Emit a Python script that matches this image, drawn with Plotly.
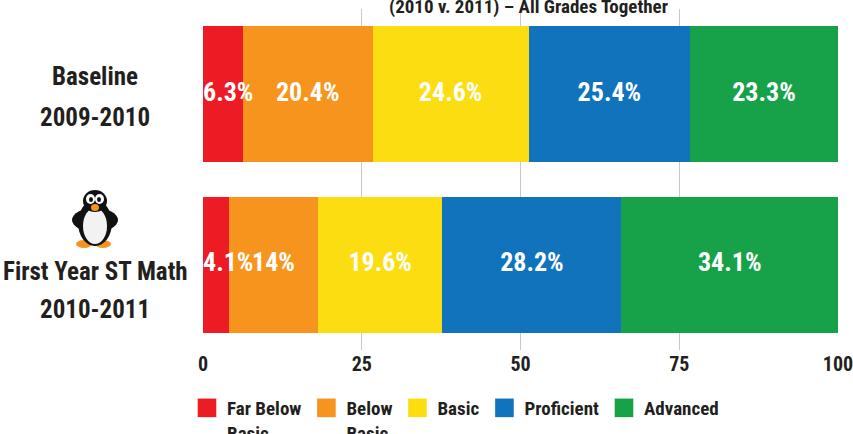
import plotly.graph_objects as go

categories = ["Baseline", "First Year ST Math"]
label_line1 = ["Baseline", "First Year ST Math"]
label_line2 = ["2009-2010", "2010-2011"]
levels = ["Far Below<br>Basic", "Below<br>Basic", "Basic", "Proficient", "Advanced"]
colors = ["#ED1C24", "#F7941D", "#FCDD11", "#1173BB", "#17A24A"]
far_below = [6.3, 4.1]
below = [20.4, 14]
basic = [24.6, 19.6]
proficient = [25.4, 28.2]
advanced = [23.3, 34.1]
series = [far_below, below, basic, proficient, advanced]
tick_vals = [0, 25, 50, 75, 100]
title_text = "(2010 v. 2011) – All Grades Together"

FONT = "Roboto Condensed, Roboto, sans-serif"
DARK = "#231F20"

W, H = 853, 434
ML, MR, MT, MB = 203, 15, 9, 84
PW, PH = W - ML - MR, H - MT - MB
LABEL_SHIFTS = [(18, -23), (-7, -45)]

def px(x):
    return (x - ML) / PW

def py(y):
    return 1 - (y - MT) / PH

def fnt(size, color):
    return dict(family=FONT, size=size, color=color, weight="bold")

fig = go.Figure()
for name, vals, col in zip(levels, series, colors):
    fig.add_trace(go.Bar(
        y=categories, x=vals, name=name, orientation="h",
        marker=dict(color=col, line=dict(width=0)),
        width=0.8, hoverinfo="x+name",
    ))

# value labels drawn on top of all bars
starts = [0.0, 0.0]
for i, vals in enumerate(series):
    xs = []
    for j, v in enumerate(vals):
        xs.append(starts[j] if i == 0 else starts[j] + v / 2)
        starts[j] += v
    fig.add_trace(go.Scatter(
        x=xs, y=categories, mode="text",
        text=[f"{v:g}%" for v in vals],
        textposition="middle right" if i == 0 else "middle center",
        textfont=fnt(26, "white"), showlegend=False, hoverinfo="skip",
        cliponaxis=False,
    ))

annotations = []
for cat, l1, l2, (s1, s2) in zip(categories, label_line1, label_line2, LABEL_SHIFTS):
    annotations.append(dict(
        x=px(95), xref="paper", y=cat, yref="y", yshift=s1,
        text=l1, showarrow=False, xanchor="center", yanchor="middle",
        font=fnt(25, DARK),
    ))
    annotations.append(dict(
        x=px(95), xref="paper", y=cat, yref="y", yshift=s2,
        text=l2, showarrow=False, xanchor="center", yanchor="middle",
        font=fnt(25, DARK),
    ))
annotations.append(dict(
    x=px(528), xref="paper", y=1, yref="paper", yanchor="bottom", yshift=-11,
    text=title_text, showarrow=False,
    font=fnt(19, DARK),
))

# simple penguin icon (decoration)
shapes = []
def ell(x0, y0, x1, y1, color):
    shapes.append(dict(type="circle", xref="paper", yref="paper",
                       x0=px(x0), x1=px(x1), y0=py(y1), y1=py(y0),
                       fillcolor=color, line=dict(width=0), layer="above"))
ell(76, 240, 92, 248, "#F7941D")
ell(95, 240, 111, 248, "#F7941D")
ell(72, 208, 118, 232, "#111111")
ell(78, 200, 112, 246, "#111111")
ell(83, 208, 107, 244, "#F2F2F2")
ell(83, 190, 107, 212, "#111111")
ell(86, 194, 95, 204, "white")
ell(95, 194, 104, 204, "white")
ell(89, 197, 93, 202, "#111111")
ell(97, 197, 101, 202, "#111111")
ell(91, 204, 99, 211, "#F7941D")

fig.update_layout(
    width=W, height=H,
    margin=dict(l=ML, r=MR, t=MT, b=MB, autoexpand=False),
    barmode="stack",
    plot_bgcolor="white", paper_bgcolor="white",
    xaxis=dict(range=[0, 100], tickvals=tick_vals, showgrid=True,
               gridcolor="#C8C8C8", gridwidth=1, zeroline=False,
               tickfont=fnt(20, DARK), ticks="", showline=False,
               ticklabeloverflow="allow", automargin=False),
    yaxis=dict(showticklabels=False, showgrid=False, automargin=False,
               zeroline=False, range=[1.5, -0.5]),
    showlegend=True,
    legend=dict(orientation="h", x=px(187), xanchor="left", y=py(389),
                yanchor="top", traceorder="normal", valign="top",
                font=fnt(19, DARK), itemwidth=30),
    annotations=annotations,
    shapes=shapes,
)

post = """
document.body.style.margin='0';
document.body.style.overflow='hidden';
var f=function(){
  document.querySelectorAll('.legend .legendpoints path').forEach(function(p){
    if(p.getAttribute('data-orig')===null){
      p.setAttribute('data-orig', p.getAttribute('transform')||'');
    }
    p.setAttribute('transform', p.getAttribute('data-orig')+' scale(1.55)');
  });
};
f(); setTimeout(f, 30); setTimeout(f, 200);
"""
fig.write_html("out.html", post_script=post, config={"displayModeBar": False})
